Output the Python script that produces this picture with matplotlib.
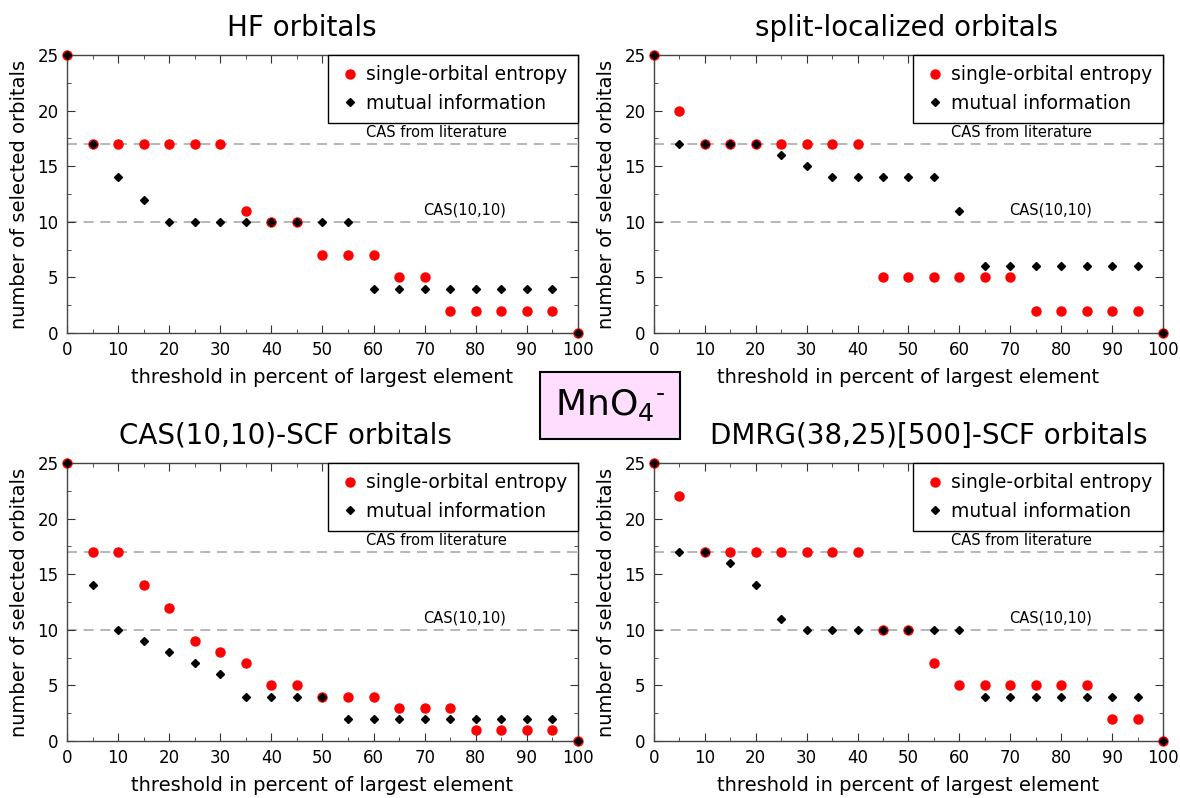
import numpy as np
import matplotlib
matplotlib.use("Agg")
from matplotlib import pyplot as plt
from matplotlib.ticker import MultipleLocator

# threshold values (percent of largest element)
thresholds = list(range(0, 101, 5))

titles = ["HF orbitals", "split-localized orbitals",
          "CAS(10,10)-SCF orbitals", "DMRG(38,25)[500]-SCF orbitals"]

# single-orbital entropy selection
hf_single = [25, 17, 17, 17, 17, 17, 17, 11, 10, 10, 7, 7, 7, 5, 5, 2, 2, 2, 2, 2, 0]
split_single = [25, 20, 17, 17, 17, 17, 17, 17, 17, 5, 5, 5, 5, 5, 5, 2, 2, 2, 2, 2, 0]
cas_single = [25, 17, 17, 14, 12, 9, 8, 7, 5, 5, 4, 4, 4, 3, 3, 3, 1, 1, 1, 1, 0]
dmrg_single = [25, 22, 17, 17, 17, 17, 17, 17, 17, 10, 10, 7, 5, 5, 5, 5, 5, 5, 2, 2, 0]

# mutual information selection
hf_mutual = [25, 17, 14, 12, 10, 10, 10, 10, 10, 10, 10, 10, 4, 4, 4, 4, 4, 4, 4, 4, 0]
split_mutual = [25, 17, 17, 17, 17, 16, 15, 14, 14, 14, 14, 14, 11, 6, 6, 6, 6, 6, 6, 6, 0]
cas_mutual = [25, 14, 10, 9, 8, 7, 6, 4, 4, 4, 4, 2, 2, 2, 2, 2, 2, 2, 2, 2, 0]
dmrg_mutual = [25, 17, 17, 16, 14, 11, 10, 10, 10, 10, 10, 10, 10, 4, 4, 4, 4, 4, 4, 4, 0]

single_sets = [hf_single, split_single, cas_single, dmrg_single]
mutual_sets = [hf_mutual, split_mutual, cas_mutual, dmrg_mutual]

cas_literature = 17
cas_10_10 = 10

fig = plt.figure(figsize=(11.8, 7.98), dpi=100)

# axes rectangles in figure fraction
boxes = [[0.0568, 0.5827, 0.433, 0.3484],
         [0.5542, 0.5827, 0.4314, 0.3484],
         [0.0568, 0.0714, 0.433, 0.3484],
         [0.5542, 0.0714, 0.4314, 0.3484]]
# titles are not quite centred over the axes in the original
title_x = [0.46, 0.497, 0.427, 0.54]

for box, title, tx, single, mutual in zip(boxes, titles, title_x, single_sets, mutual_sets):
    ax = fig.add_axes(box)
    ax.axhline(cas_literature, color="#aaaaaa", ls=(0, (6, 4)), lw=1.2, zorder=1)
    ax.axhline(cas_10_10, color="#aaaaaa", ls=(0, (6, 4)), lw=1.2, zorder=1)
    ax.text(86, cas_literature + 0.35, "CAS from literature", ha="right", va="bottom", fontsize=10.5)
    ax.text(86, cas_10_10 + 0.35, "CAS(10,10)", ha="right", va="bottom", fontsize=10.5)

    ax.plot(thresholds, single, "o", color="red", ms=6.5, mec="red",
            label="single-orbital entropy", zorder=3, clip_on=False)
    ax.plot(thresholds, mutual, "D", color="black", ms=4.5,
            label="mutual information", zorder=4, clip_on=False)

    ax.set_xlim(0, 100)
    ax.set_ylim(0, 25)
    ax.xaxis.set_major_locator(MultipleLocator(10))
    ax.xaxis.set_minor_locator(MultipleLocator(5))
    ax.yaxis.set_major_locator(MultipleLocator(5))
    ax.yaxis.set_minor_locator(MultipleLocator(2.5))
    ax.tick_params(which="both", direction="in", top=True, right=True, labelsize=12,
                   colors="#333333", labelcolor="black")
    ax.tick_params(which="major", length=6, pad=6)
    ax.tick_params(which="minor", length=3)
    for s in ax.spines.values():
        s.set_color("#444444")
        s.set_linewidth(1.0)

    ax.set_xlabel("threshold in percent of largest element", fontsize=14, labelpad=6)
    ax.set_ylabel("number of selected orbitals", fontsize=14, labelpad=6)
    ax.set_title(title, fontsize=20, pad=14, x=tx)

    leg = ax.legend(loc="upper right", fontsize=13.5, handletextpad=0.3, handlelength=1.2,
                    borderaxespad=0.0, fancybox=False, framealpha=1, edgecolor="black",
                    borderpad=0.55, labelspacing=0.5)
    leg.get_frame().set_linewidth(1.0)

fig.text(0.517, 0.492, r"MnO$_4{}^{\text{-}}$", fontsize=26, ha="center", va="center",
         bbox=dict(boxstyle="square,pad=0.42", facecolor="#ffddff", edgecolor="black", lw=1.5))

fig.savefig("out.png", dpi=100)
